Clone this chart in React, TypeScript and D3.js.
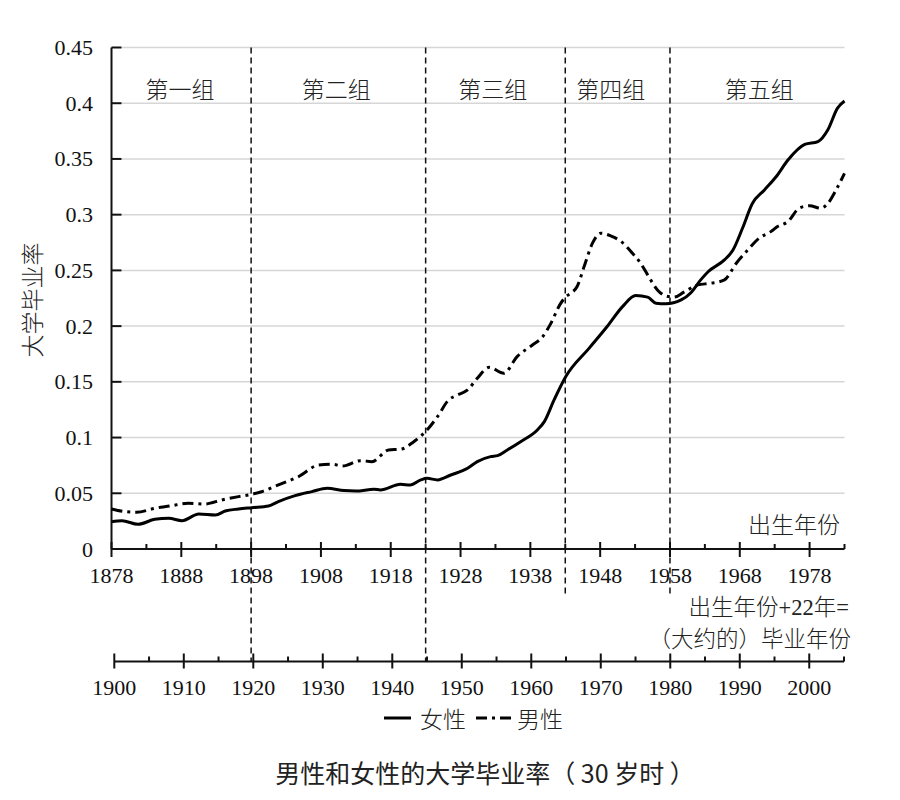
import React from "react";
import * as d3 from "d3";

// ---- data ----
const femaleYears = [1878, 1879.5, 1881.8, 1884.2, 1886.2, 1888.1, 1890.5, 1892.9, 1894.3, 1896.2, 1898.1, 1900.5, 1901.9, 1904.3, 1906.7, 1908.9, 1911.3, 1913, 1915.6, 1916.5, 1919.4, 1920.8, 1922.3, 1923.2, 1924.7, 1926.6, 1929, 1930.4, 1932.3, 1933.3, 1934.7, 1936.6, 1939, 1940, 1941.4, 1943.1, 1946.4, 1949, 1951.2, 1953.1, 1954.8, 1956, 1957.4, 1959.6, 1961, 1962.4, 1963.5, 1965.8, 1967, 1968.4, 1969.8, 1971.5, 1973.2, 1974.9, 1977.3, 1979.2, 1980.6, 1982, 1983];
const femaleRates = [0.0245, 0.0254, 0.0222, 0.0266, 0.0275, 0.0254, 0.0314, 0.0305, 0.0341, 0.0359, 0.0371, 0.0386, 0.0425, 0.0479, 0.0515, 0.0545, 0.0524, 0.052, 0.0536, 0.053, 0.058, 0.0575, 0.062, 0.0634, 0.062, 0.0664, 0.0724, 0.0784, 0.0829, 0.0838, 0.0889, 0.0963, 0.1068, 0.1143, 0.1338, 0.155, 0.18, 0.1996, 0.2175, 0.2274, 0.226, 0.2205, 0.22, 0.2235, 0.23, 0.2415, 0.249, 0.2594, 0.268, 0.288, 0.31, 0.322, 0.334, 0.349, 0.363, 0.3656, 0.376, 0.3956, 0.402];

const maleYears = [1878, 1880, 1881.6, 1884.2, 1886.6, 1889, 1891.4, 1893.8, 1896.2, 1897.6, 1899.5, 1901.9, 1904.8, 1907.7, 1909.6, 1911.1, 1913.7, 1915.3, 1917.7, 1919.4, 1921.3, 1923.2, 1924.7, 1926.3, 1927.5, 1929, 1930.4, 1932.1, 1934.2, 1936.1, 1938.3, 1939.7, 1940.9, 1942.3, 1943.1, 1943.8, 1944.7, 1945.7, 1946.9, 1948.1, 1949.5, 1951, 1952.4, 1953.8, 1954.8, 1956.2, 1957.4, 1958.6, 1960, 1962, 1963.9, 1965.8, 1967.5, 1969.1, 1970.8, 1972.5, 1973.4, 1974.9, 1976.5, 1978, 1979.6, 1980.6, 1981.8, 1983];
const maleRates = [0.0359, 0.0335, 0.033, 0.0365, 0.0389, 0.041, 0.0404, 0.044, 0.047, 0.0485, 0.0514, 0.0575, 0.065, 0.0754, 0.076, 0.0745, 0.0793, 0.0784, 0.0889, 0.0895, 0.0963, 0.1068, 0.1188, 0.1338, 0.138, 0.1427, 0.1532, 0.163, 0.1577, 0.1726, 0.1831, 0.19, 0.202, 0.22, 0.2265, 0.2295, 0.2355, 0.2534, 0.2744, 0.2834, 0.281, 0.2759, 0.267, 0.2564, 0.246, 0.2325, 0.227, 0.226, 0.2305, 0.237, 0.2385, 0.2415, 0.2564, 0.268, 0.279, 0.285, 0.2893, 0.2938, 0.3058, 0.308, 0.3058, 0.31, 0.3223, 0.337];

const yTicks = [0, 0.05, 0.1, 0.15, 0.2, 0.25, 0.3, 0.35, 0.4, 0.45];
const yTickLabels = ["0", "0.05", "0.1", "0.15", "0.2", "0.25", "0.3", "0.35", "0.4", "0.45"];
const birthMajor = [1878, 1888, 1898, 1908, 1918, 1928, 1938, 1948, 1958, 1968, 1978];
const birthMinor = [1883, 1893, 1903, 1913, 1923, 1933, 1943, 1953, 1963, 1973, 1983];
const gradMajor = [1900, 1910, 1920, 1930, 1940, 1950, 1960, 1970, 1980, 1990, 2000];
const gradMinor = [1905, 1915, 1925, 1935, 1945, 1955, 1965, 1975, 1985, 1995, 2005];
const groupBoundaries = [1898, 1923, 1943, 1958];
const groupBoundaryLong = [true, true, false, false];
const groupNames = ["第一组", "第二组", "第三组", "第四组", "第五组"];
const groupLabelYears = [1887.8, 1910.2, 1932.6, 1949.5, 1970.8];
const seriesNames = ["女性", "男性"];

const SERIF = "Liberation Serif, Times New Roman, DejaVu Serif, Noto Sans CJK SC, serif";
const CJK = "Noto Sans CJK SC, sans-serif";

export default function App() {
  const x = d3.scaleLinear().domain([1878, 1983]).range([111.5, 844.5]);
  const x2 = d3.scaleLinear().domain([1900, 2005]).range([114.3, 844]);
  const y = d3.scaleLinear().domain([0, 0.45]).range([549, 47.5]);

  const line = d3
    .line<[number, number]>()
    .x((d) => x(d[0]))
    .y((d) => y(d[1]))
    .curve(d3.curveMonotoneX);

  const femaleData = femaleYears.map((yr, i) => [yr, femaleRates[i]] as [number, number]);
  const maleData = maleYears.map((yr, i) => [yr, maleRates[i]] as [number, number]);

  const axisY1 = y(0);
  const axisY2 = 661.5;
  const xLeft = x(1878);
  const xRight = x(1983);

  const serifStyle = { fontFamily: SERIF };
  const cjkStyle = { fontFamily: CJK };

  return (
    <svg width={900} height={800} style={{ display: "block", position: "absolute", left: 0, top: 0 }}>
      <rect width={900} height={800} fill="#ffffff" />
      {/* gridlines */}
      {yTicks.slice(1).map((t) => (
        <line key={"g" + t} x1={xLeft + 10} x2={xRight} y1={y(t)} y2={y(t)} stroke="#d6d6d6" strokeWidth={1.5} />
      ))}
      {/* y axis */}
      <line x1={xLeft} x2={xLeft} y1={y(0.45)} y2={axisY1} stroke="#111" strokeWidth={2} />
      {yTicks.map((t, i) => (
        <g key={"yt" + t}>
          <line x1={xLeft} x2={xLeft + 10} y1={y(t)} y2={y(t)} stroke="#111" strokeWidth={2} />
          <text x={93} y={y(t)} textAnchor="end" dominantBaseline="central" style={serifStyle} fontSize={22} fill="#111">
            {yTickLabels[i]}
          </text>
        </g>
      ))}
      {/* group boundaries */}
      {groupBoundaries.map((b, i) => (
        <line key={"b" + b} x1={x(b)} x2={x(b)} y1={y(0.45)} y2={groupBoundaryLong[i] ? axisY2 : 595} stroke="#111" strokeWidth={1.5} strokeDasharray="6,4" />
      ))}
      {groupNames.map((g, i) => (
        <text key={g} x={x(groupLabelYears[i])} y={88} textAnchor="middle" dominantBaseline="central" style={cjkStyle} fontWeight={300} fontSize={23} fill="#222">
          {g}
        </text>
      ))}
      {/* birth-year axis */}
      <line x1={xLeft} x2={xRight} y1={axisY1} y2={axisY1} stroke="#111" strokeWidth={2} />
      {birthMajor.map((t) => (
        <g key={"bm" + t}>
          <line x1={x(t)} x2={x(t)} y1={axisY1 - 7} y2={axisY1 + 8} stroke="#111" strokeWidth={2} />
          <text x={x(t)} y={583} textAnchor="middle" style={serifStyle} fontSize={22} fill="#111">
            {t}
          </text>
        </g>
      ))}
      {birthMinor.map((t) => (
        <line key={"bn" + t} x1={x(t)} x2={x(t)} y1={axisY1 - 5} y2={axisY1} stroke="#111" strokeWidth={2} />
      ))}
      <text x={840} y={523} textAnchor="end" dominantBaseline="central" style={cjkStyle} fontWeight={300} fontSize={23} fill="#222">
        出生年份
      </text>
      <text x={849} y={607.5} textAnchor="end" dominantBaseline="central" style={serifStyle} fontWeight={300} fontSize={22.5} fill="#222">
        出生年份+22年=
      </text>
      <text x={851} y={636.5} textAnchor="end" dominantBaseline="central" style={cjkStyle} fontWeight={300} fontSize={22.5} fill="#222">
        （大约的）毕业年份
      </text>
      {/* graduation-year axis */}
      <line x1={x2(1900)} x2={x2(2005)} y1={axisY2} y2={axisY2} stroke="#111" strokeWidth={2} />
      {gradMajor.map((t) => (
        <g key={"gm" + t}>
          <line x1={x2(t)} x2={x2(t)} y1={axisY2 - 8} y2={axisY2 + 7} stroke="#111" strokeWidth={2} />
          <text x={x2(t)} y={695} textAnchor="middle" style={serifStyle} fontSize={22} fill="#111">
            {t}
          </text>
        </g>
      ))}
      {gradMinor.map((t) => (
        <line key={"gn" + t} x1={x2(t)} x2={x2(t)} y1={axisY2 - 5} y2={axisY2} stroke="#111" strokeWidth={2} />
      ))}
      {/* series */}
      <path d={line(femaleData) || ""} fill="none" stroke="#000" strokeWidth={3} strokeLinejoin="round" />
      <path d={line(maleData) || ""} fill="none" stroke="#000" strokeWidth={3} strokeDasharray="11,5,3,5" strokeLinejoin="round" />
      {/* y label */}
      <text transform="translate(31,300) rotate(-90)" textAnchor="middle" dominantBaseline="central" style={cjkStyle} fontWeight={300} fontSize={23} fill="#222">
        大学毕业率
      </text>
      {/* legend */}
      <line x1={384} x2={411} y1={718} y2={718} stroke="#000" strokeWidth={3} />
      <text x={420} y={718} dominantBaseline="central" style={cjkStyle} fontWeight={300} fontSize={23} fill="#222">
        {seriesNames[0]}
      </text>
      <line x1={476} x2={511} y1={718} y2={718} stroke="#000" strokeWidth={3} strokeDasharray="11,5,3,5" />
      <text x={517} y={718} dominantBaseline="central" style={cjkStyle} fontWeight={300} fontSize={23} fill="#222">
        {seriesNames[1]}
      </text>
      {/* title */}
      <text x={485} y={772} textAnchor="middle" dominantBaseline="central" style={cjkStyle} fontWeight={400} fontSize={25} fill="#222">
        男性和女性的大学毕业率（ 30 岁时 ）
      </text>
    </svg>
  );
}
